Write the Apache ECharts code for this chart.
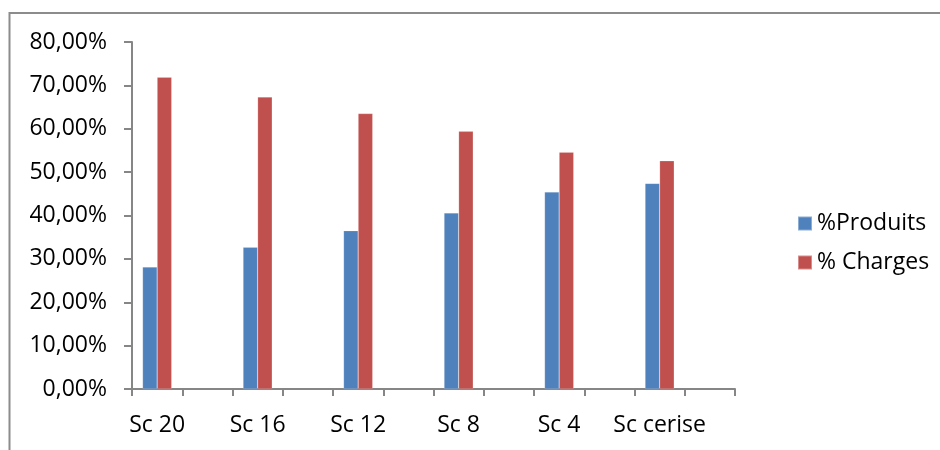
<!DOCTYPE html>
<html>
<head>
<meta charset="utf-8">
<script src="https://cdn.jsdelivr.net/npm/echarts@6/dist/echarts.min.js"></script>
<style>
html,body{margin:0;padding:0;background:#fff;}
#chart{width:940px;height:450px;}
</style>
</head>
<body>
<div id="chart"></div>
<script>
const scenarios = ['Sc 20', 'Sc 16', 'Sc 12', 'Sc 8', 'Sc 4', 'Sc cerise'];
const produits = [28.1, 32.7, 36.5, 40.6, 45.4, 47.4];
const charges = [71.9, 67.3, 63.5, 59.4, 54.6, 52.6];
const seriesNames = ['%Produits', '% Charges'];
const yTicks = [0, 10, 20, 30, 40, 50, 60, 70, 80];

// Excel axis shows 12 slots; labels on every other slot
const categories = [];
const prodSlots = [];
const chargeSlots = [];
scenarios.forEach((s, i) => {
  categories.push(s, ' ');
  prodSlots.push(produits[i], null);
  chargeSlots.push(charges[i], null);
});

const FONT = 'Open Sans';
const chart = echarts.init(document.getElementById('chart'));
chart.setOption({
  animation: false,
  backgroundColor: '#fff',
  graphic: [{
    type: 'rect',
    shape: { x: 9.5, y: 13, width: 1000, height: 1000 },
    style: { fill: 'none', stroke: '#8c8c8c', lineWidth: 2 },
    silent: true
  }],
  grid: { left: 132, right: 205, top: 42, bottom: 61, containLabel: false },
  legend: {
    orient: 'vertical',
    left: 792,
    top: 206,
    itemWidth: 14,
    itemHeight: 14,
    itemGap: 14,
    icon: 'rect',
    textStyle: { fontFamily: FONT, fontSize: 23, color: '#000', lineHeight: 25 },
    data: seriesNames
  },
  xAxis: {
    type: 'category',
    data: categories,
    boundaryGap: true,
    axisLine: { lineStyle: { color: '#868686', width: 2 } },
    axisTick: { show: true, length: 7, alignWithLabel: false, interval: 0, lineStyle: { color: '#868686', width: 2 } },
    axisLabel: { interval: 0, margin: 25, color: '#000', fontFamily: FONT, fontSize: 23 },
    splitLine: { show: false }
  },
  yAxis: {
    type: 'value',
    min: yTicks[0],
    max: yTicks[yTicks.length - 1],
    interval: 10,
    axisLine: { show: true, lineStyle: { color: '#868686', width: 2 } },
    axisTick: { show: true, length: 8, lineStyle: { color: '#868686', width: 2 } },
    axisLabel: {
      margin: 25,
      color: '#000',
      fontFamily: FONT,
      fontSize: 23,
      formatter: v => v.toFixed(2).replace('.', ',') + '%'
    },
    splitLine: { show: false }
  },
  series: [
    {
      name: seriesNames[0],
      type: 'bar',
      data: prodSlots,
      barGap: '0%',
      barCategoryGap: '42%',
      itemStyle: { color: '#4F81BD', borderColor: 'rgba(255,255,255,0.35)', borderWidth: 0.5 }
    },
    {
      name: seriesNames[1],
      type: 'bar',
      data: chargeSlots,
      barGap: '0%',
      barCategoryGap: '42%',
      itemStyle: { color: '#C0504D', borderColor: 'rgba(255,255,255,0.35)', borderWidth: 0.5 }
    }
  ]
});
</script>
</body>
</html>
